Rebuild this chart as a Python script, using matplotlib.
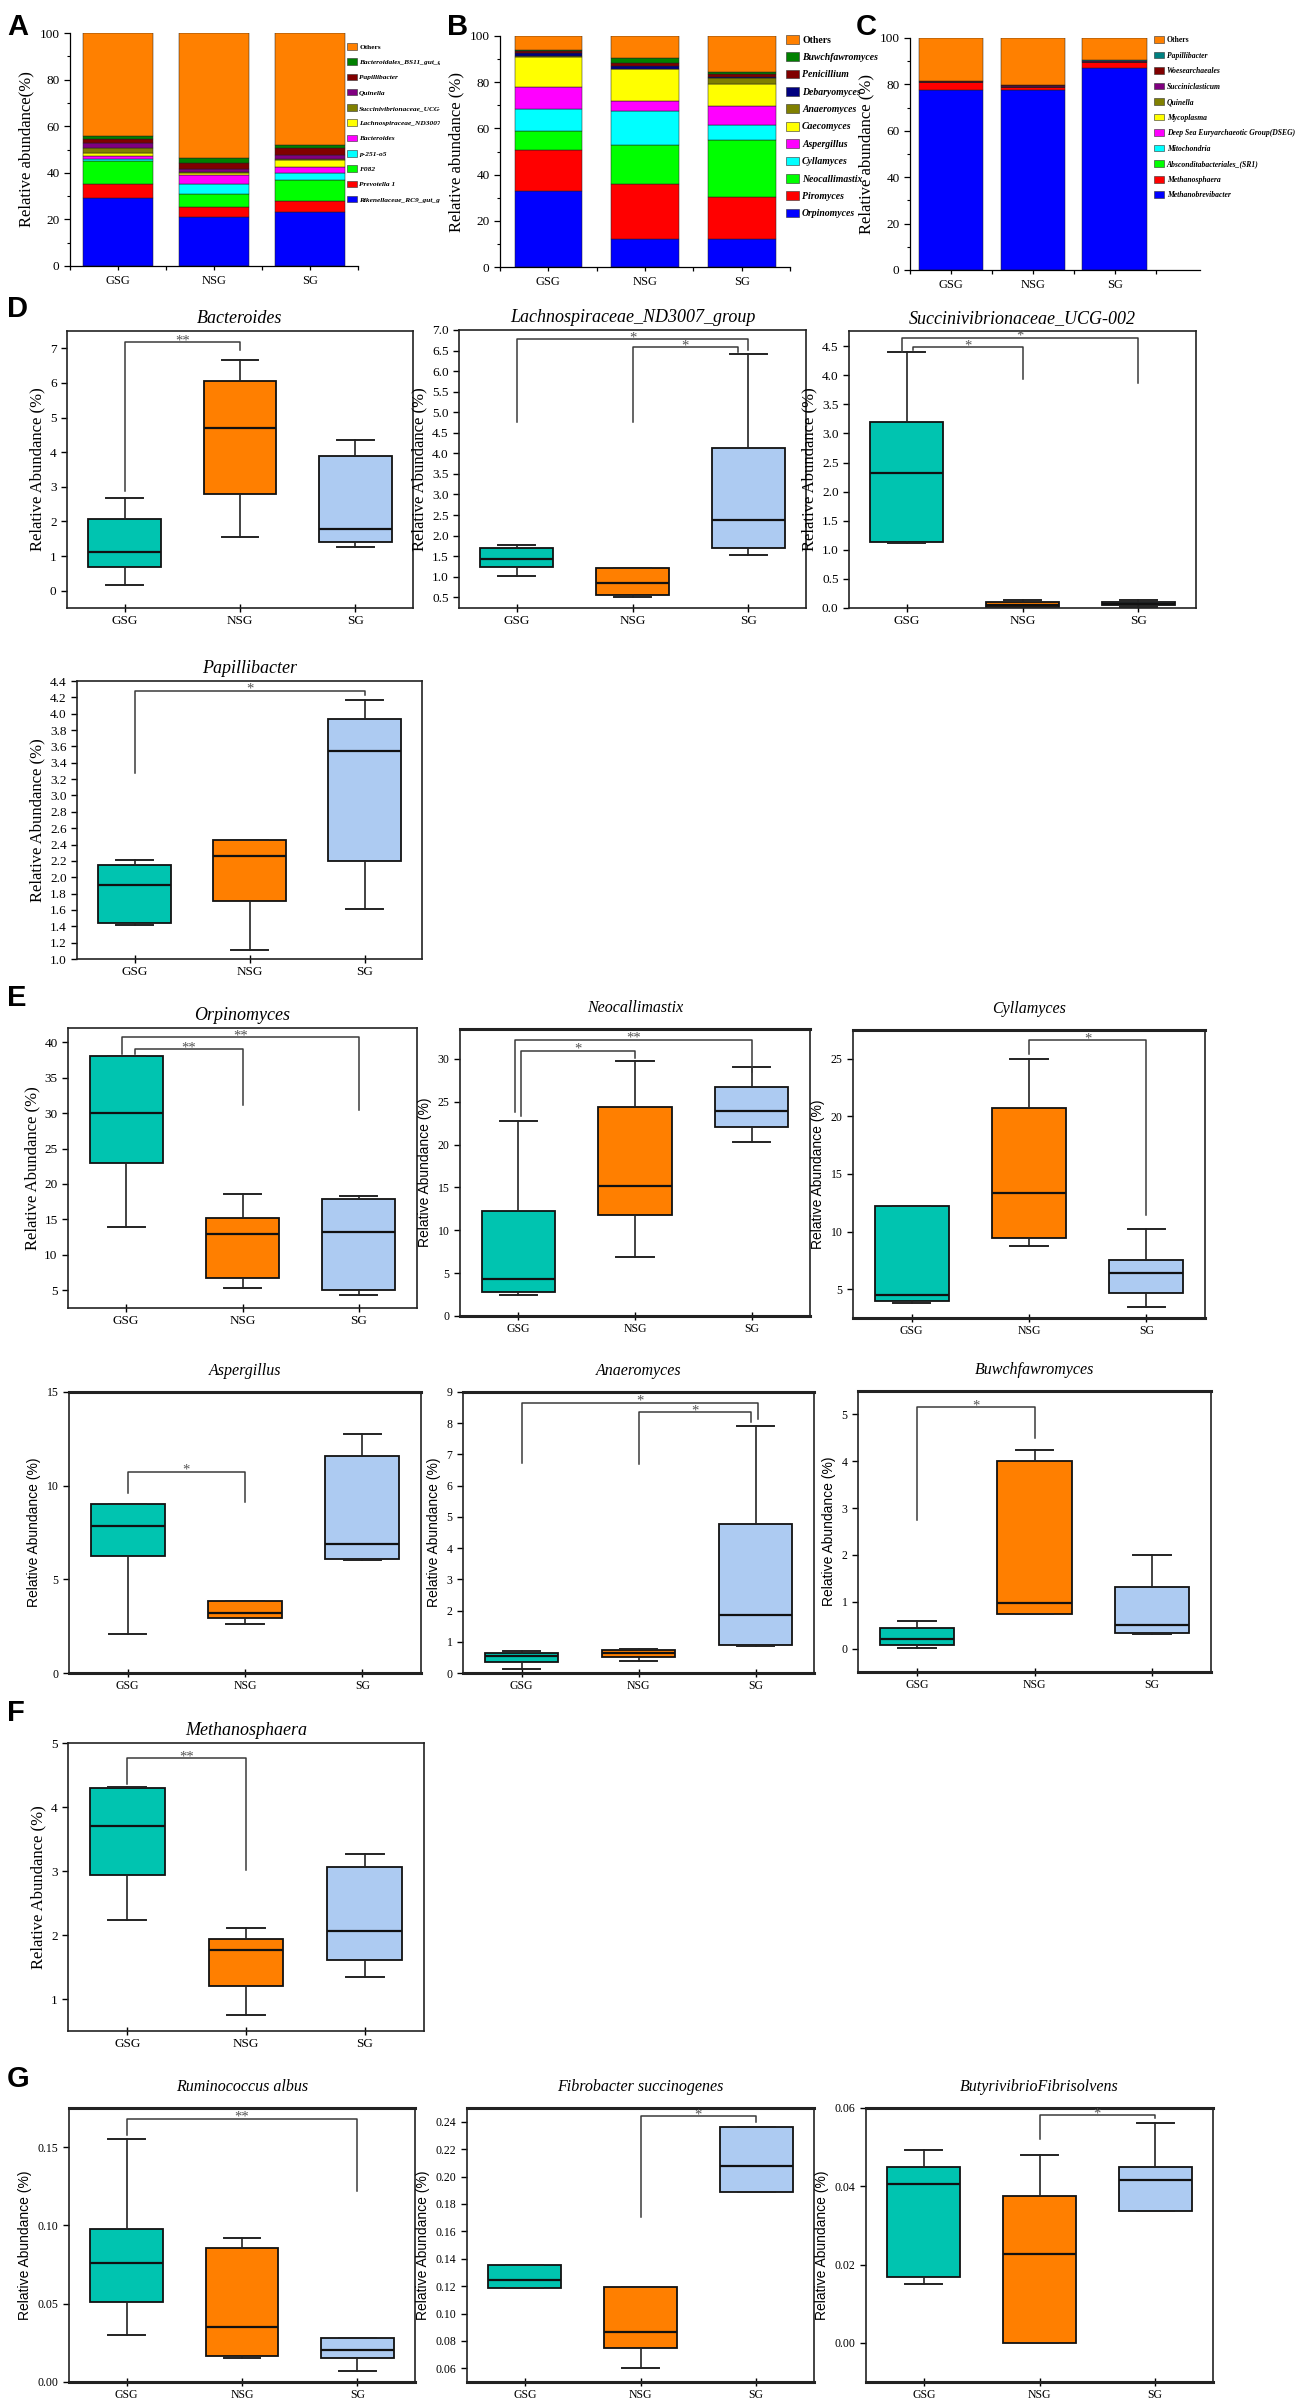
import numpy as np
import matplotlib
matplotlib.use("Agg")
import matplotlib.pyplot as plt
from matplotlib.patches import Patch
from matplotlib.transforms import Bbox
from matplotlib.ticker import MultipleLocator, FormatStrFormatter

W, H = 1300, 2404
groups = ["GSG", "NSG", "SG"]

# ---------------- stacked bars (bottom -> top) ----------------
a_taxa = ["Rikenellaceae_RC9_gut_group", "Prevotella 1", "F082", "p-251-o5", "Bacteroides",
          "Lachnospiraceae_ND3007_group", "Succinivibrionaceae_UCG-002", "Quinella",
          "Papillibacter", "Bacteroidales_BS11_gut_group", "Others"]
a_gsg = [29, 6, 10, 1, 1, 1.5, 2, 2.5, 1.5, 1.5, 44]
a_nsg = [21, 4.5, 5.5, 4, 4, 1, 0.3, 1.5, 2.5, 2, 53.7]
a_sg = [23, 5, 9, 3, 2.5, 3, 0.5, 1.5, 3, 1.5, 48]

b_taxa = ["Orpinomyces", "Piromyces", "Neocallimastix", "Cyllamyces", "Aspergillus",
          "Caecomyces", "Anaeromyces", "Debaryomyces", "Penicillium", "Buwchfawromyces", "Others"]
b_gsg = [33, 17.5, 8.5, 9.5, 9.5, 13, 0.5, 1, 1, 0.3, 6.2]
b_nsg = [12.2, 23.6, 17, 14.8, 4.1, 13.9, 0.2, 1.2, 1.5, 2.1, 9.4]
b_sg = [12.2, 18.3, 24.5, 6.4, 8.4, 9.3, 2.9, 0.3, 1.2, 1.1, 15.4]

c_taxa = ["Methanobrevibacter", "Methanosphaera", "Absconditabacteriales_(SR1)", "Mitochondria",
          "Deep Sea Euryarchaeotic Group(DSEG)", "Mycoplasma", "Quinella", "Succiniclasticum",
          "Woesearchaeales", "Papillibacter", "Others"]
c_gsg = [77.4, 3.5, 0.05, 0.05, 0.05, 0.05, 0.05, 0.05, 0.4, 0.05, 18.25]
c_nsg = [77.4, 1.4, 0.05, 0.05, 0.05, 0.05, 0.05, 0.05, 0.5, 0.05, 20.35]
c_sg = [87.1, 2.5, 0.05, 0.05, 0.05, 0.05, 0.05, 0.05, 0.4, 0.05, 9.65]

# ---------------- box plot stats: [whislo, q1, med, q3, whishi] per group ----------------
bacteroides = [[0.15, 0.68, 1.12, 2.08, 2.68], [1.54, 2.8, 4.69, 6.06, 6.65], [1.27, 1.40, 1.79, 3.88, 4.35]]
lachno = [[1.02, 1.24, 1.44, 1.70, 1.77], [0.50, 0.55, 0.86, 1.21, 1.21], [1.54, 1.69, 2.37, 4.12, 6.42]]
succini = [[1.12, 1.13, 2.32, 3.20, 4.40], [0.0, 0.01, 0.06, 0.11, 0.13], [0.01, 0.05, 0.07, 0.11, 0.13]]
papilli = [[1.41, 1.44, 1.90, 2.15, 2.21], [1.11, 1.71, 2.26, 2.45, 2.45], [1.61, 2.20, 3.54, 3.93, 4.17]]
orpino = [[13.9, 22.9, 30.0, 38.0, 38.0], [5.3, 6.7, 13.0, 15.2, 18.6], [4.35, 5.05, 13.2, 17.9, 18.3]]
neocal = [[2.46, 2.82, 4.33, 12.28, 22.8], [6.83, 11.76, 15.14, 24.35, 29.76], [20.26, 22.09, 23.92, 26.78, 29.04]]
cyllam = [[3.76, 4.0, 4.53, 12.2, 12.2], [8.79, 9.44, 13.39, 20.73, 25.0], [3.49, 4.67, 6.42, 7.52, 10.24]]
asperg = [[2.07, 6.26, 7.83, 9.04, 9.04], [2.62, 2.91, 3.19, 3.82, 3.82], [6.03, 6.08, 6.87, 11.56, 12.74]]
anaero = [[0.13, 0.36, 0.55, 0.64, 0.72], [0.40, 0.50, 0.64, 0.73, 0.77], [0.85, 0.91, 1.85, 4.76, 7.90]]
buwch = [[0.02, 0.08, 0.20, 0.43, 0.59], [0.73, 0.73, 0.98, 4.0, 4.24], [0.31, 0.34, 0.51, 1.32, 2.0]]
methano = [[2.24, 2.94, 3.71, 4.29, 4.31], [0.75, 1.20, 1.76, 1.94, 2.11], [1.35, 1.61, 2.06, 3.07, 3.27]]
rumino = [[0.030, 0.0512, 0.0757, 0.098, 0.155], [0.0152, 0.0169, 0.0349, 0.0855, 0.0922],
          [0.0072, 0.0152, 0.0207, 0.0279, 0.0279]]
fibro = [[0.1183, 0.1183, 0.1245, 0.1352, 0.1352], [0.060, 0.0747, 0.0868, 0.1192, 0.1192],
         [0.1886, 0.1886, 0.208, 0.236, 0.236]]
butyr = [[0.0151, 0.0168, 0.0405, 0.045, 0.0492], [0.0, 0.0, 0.0227, 0.0376, 0.048],
         [0.0336, 0.0338, 0.0415, 0.0449, 0.0562]]

# significance: (group i, group j, bracket height, leg end i, leg end j, label)
bacteroides_sig = [(0, 1, 7.17, 2.88, 6.96, "**")]
lachno_sig = [(0, 2, 6.77, 4.77, 6.51, "*"), (1, 2, 6.58, 4.77, 6.47, "*")]
succini_sig = [(0, 2, 4.64, 4.40, 3.87, "*"), (0, 1, 4.48, 4.44, 3.93, "*")]
papilli_sig = [(0, 2, 4.28, 3.28, 4.23, "*")]
orpino_sig = [(0, 2, 40.66, 38.4, 30.5, "**"), (0, 1, 38.97, 38.4, 31.1, "**")]
neocal_sig = [(0, 2, 32.26, 23.8, 28.5, "**"), (0, 1, 30.95, 23.3, 30.1, "*")]
cyllam_sig = [(1, 2, 26.6, 25.4, 11.46, "*")]
asperg_sig = [(0, 1, 10.72, 9.6, 9.15, "*")]
anaero_sig = [(0, 2, 8.65, 6.74, 8.15, "*"), (1, 2, 8.35, 6.7, 8.04, "*")]
buwch_sig = [(0, 1, 5.15, 2.75, 4.49, "*")]
methano_sig = [(0, 1, 4.76, 4.36, 3.02, "**")]
rumino_sig = [(0, 2, 0.168, 0.158, 0.122, "**")]
fibro_sig = [(1, 2, 0.2439, 0.1707, 0.2395, "*")]
butyr_sig = [(1, 2, 0.0581, 0.052, 0.0575, "*")]

# ---------------- styling ----------------
SERIF = ["Liberation Serif", "DejaVu Serif"]
SANS = ["Liberation Sans", "DejaVu Sans"]
plt.rcParams["font.family"] = SERIF

box_colors = ["#00C4B0", "#FF7F00", "#ADCBF2"]
a_colors = ["#0000FF", "#FF0000", "#00FF00", "#00FFFF", "#FF00FF", "#FFFF00", "#808000",
            "#800080", "#800000", "#008000", "#FF8000"]
b_colors = ["#0000FF", "#FF0000", "#00FF00", "#00FFFF", "#FF00FF", "#FFFF00", "#808000",
            "#000080", "#800000", "#008000", "#FF8000"]
c_colors = ["#0000FF", "#FF0000", "#00FF00", "#00FFFF", "#FF00FF", "#FFFF00", "#808000",
            "#800080", "#800000", "#008080", "#FF8000"]

fig = plt.figure(figsize=(W / 100, H / 100), dpi=100)
fig.patch.set_facecolor("white")


def px_axes(l, t, r, b):
    return fig.add_axes([l / W, 1 - b / H, (r - l) / W, (b - t) / H])


def letter(x, y, s, size=21):
    fig.text(x / W, 1 - y / H, s, fontsize=size, fontweight="bold", family=SANS,
             ha="left", va="center")


def stacked(ax, taxa, cols, data, ylabel, xmax, bw, leg_xy, leg_fs, leg_ls, clip_x=None):
    x = np.arange(1, 4)
    bottoms = np.zeros(3)
    vals = np.array(data)  # 3 x ntaxa
    for k in range(len(taxa)):
        ax.bar(x, vals[:, k], bottom=bottoms, width=bw, color=cols[k],
               edgecolor="#202020", linewidth=0.35)
        bottoms += vals[:, k]
    ax.set_xlim(0.5, xmax)
    ax.set_ylim(0, 100)
    ax.set_xticks(x)
    ax.set_xticklabels(groups, fontsize=9)
    ax.set_xticks(np.arange(0.5, xmax + 0.01, 1.0), minor=True)
    ax.yaxis.set_major_locator(MultipleLocator(20))
    ax.yaxis.set_minor_locator(MultipleLocator(10))
    ax.tick_params(axis="y", labelsize=9.5, direction="out", length=4, width=0.9)
    ax.tick_params(axis="y", which="minor", length=2.5, width=0.8)
    ax.tick_params(axis="x", which="both", direction="out", length=3, width=0.9)
    for s in ["top", "right"]:
        ax.spines[s].set_visible(False)
    for s in ["left", "bottom"]:
        ax.spines[s].set_linewidth(0.9)
    ax.set_ylabel(ylabel, fontsize=12, labelpad=4)
    handles = [Patch(facecolor=cols[k], edgecolor="#303030", linewidth=0.4) for k in range(len(taxa))][::-1]
    leg = ax.legend(handles, taxa[::-1], loc="upper left",
                    bbox_to_anchor=(leg_xy[0] / W, 1 - leg_xy[1] / H),
                    bbox_transform=fig.transFigure, frameon=False,
                    prop=dict(family=SERIF, weight="bold", style="italic", size=leg_fs),
                    handlelength=1.3, handleheight=1.0, handletextpad=0.35,
                    labelspacing=leg_ls, borderpad=0, borderaxespad=0)
    for t in leg.get_texts():
        if t.get_text() == "Others":
            t.set_fontstyle("normal")
        if clip_x is not None:
            t.set_clip_box(Bbox([[0, 0], [clip_x, H]]))
            t.set_clip_on(True)


def boxpanel(ax, title, data, sig, ylim, step, fmt, alt=False, offs=None):
    stats = [dict(whislo=d[0], q1=d[1], med=d[2], q3=d[3], whishi=d[4], fliers=[]) for d in data]
    bp = ax.bxp(stats, positions=[1, 2, 3], widths=0.63, patch_artist=True, showfliers=False,
                capwidths=0.32,
                boxprops=dict(edgecolor="#111111", linewidth=1.3),
                medianprops=dict(color="#111111", linewidth=1.6),
                whiskerprops=dict(color="#222222", linewidth=1.2),
                capprops=dict(color="#222222", linewidth=1.4))
    for patch, c in zip(bp["boxes"], box_colors):
        patch.set_facecolor(c)
    ax.set_xlim(0.5, 3.5)
    ax.set_ylim(*ylim)
    ax.yaxis.set_major_locator(MultipleLocator(step))
    ax.yaxis.set_major_formatter(FormatStrFormatter(fmt))
    ax.set_xticks([1, 2, 3])
    tfs = 9.5 if not alt else 8.5
    ax.set_xticklabels(groups, fontsize=tfs)
    ax.tick_params(axis="y", labelsize=tfs, direction="out", length=4, width=1)
    ax.tick_params(axis="x", direction="inout", length=6, width=1, pad=2)
    for s in ax.spines.values():
        s.set_linewidth(1.2)
        s.set_color("#222222")
    if alt:
        ax.spines["top"].set_linewidth(2.2)
        ax.spines["bottom"].set_linewidth(2.2)
        ax.set_ylabel("Relative Abundance (%)", fontsize=10, family=SANS, labelpad=4)
        ax.set_title(title, fontsize=11.5, style="italic", pad=12)
    else:
        ax.set_ylabel("Relative Abundance (%)", fontsize=12, labelpad=3)
        ax.set_title(title, fontsize=13, style="italic", pad=6)
    for n, (i, j, y, li, lj, lab) in enumerate(sig):
        dxi, dxj = (0, 0) if offs is None else offs[n]
        xi, xj = i + 1 + dxi, j + 1 + dxj
        ax.plot([xi, xi, xj, xj], [li, y, y, lj], color="#3a3a3a", lw=1.1, clip_on=False)
        ax.annotate(lab, xy=((xi + xj) / 2, y), xytext=(0, -3.5), textcoords="offset points",
                    ha="center", va="bottom", fontsize=10.5, color="#555555")


# ---------------- top row: stacked bars ----------------
axA = px_axes(70, 33, 358, 266)
stacked(axA, a_taxa, a_colors, [a_gsg, a_nsg, a_sg], "Relative abundance(%)", 3.5, 0.72,
        (347, 43), 5.3, 1.15, clip_x=440)
axB = px_axes(500, 36, 790, 267)
stacked(axB, b_taxa, b_colors, [b_gsg, b_nsg, b_sg], "Relative abundance (%)", 3.5, 0.70,
        (786, 35), 7.0, 0.79)
axC = px_axes(910, 38, 1200, 270)
stacked(axC, c_taxa, c_colors, [c_gsg, c_nsg, c_sg], "Relative abundance (%)", 4.04, 0.79,
        (1154, 36), 5.5, 0.98)

letter(7, 27, "A")
letter(447, 27, "B")
letter(856, 27, "C")

# ---------------- D ----------------
ax = px_axes(67, 331, 413, 608)
boxpanel(ax, "Bacteroides", bacteroides, bacteroides_sig, (-0.5, 7.5), 1, "%d")
ax = px_axes(459, 330, 806, 608)
boxpanel(ax, "Lachnospiraceae_ND3007_group", lachno, lachno_sig, (0.24, 7.0), 0.5, "%.1f",
         offs=[(0, 0), (0, -0.09)])
ax = px_axes(849, 331, 1196, 608)
boxpanel(ax, "Succinivibrionaceae_UCG-002", succini, succini_sig, (0, 4.76), 0.5, "%.1f",
         offs=[(-0.04, 0), (0.05, 0)])
ax = px_axes(77, 681, 422, 959)
boxpanel(ax, "Papillibacter", papilli, papilli_sig, (1.0, 4.4), 0.2, "%.1f")
letter(7, 309, "D")

# ---------------- E ----------------
ax = px_axes(68, 1028, 417, 1308)
boxpanel(ax, "Orpinomyces", orpino, orpino_sig, (2.5, 42), 5, "%d", offs=[(-0.035, 0), (0.08, 0)])
ax = px_axes(460, 1029, 810, 1316)
boxpanel(ax, "Neocallimastix", neocal, neocal_sig, (0, 33.5), 5, "%d", alt=True,
         offs=[(-0.03, 0), (0.02, 0)])
ax = px_axes(853, 1030, 1205, 1318)
boxpanel(ax, "Cyllamyces", cyllam, cyllam_sig, (2.5, 27.5), 5, "%d", alt=True)
ax = px_axes(69, 1392, 421, 1673)
boxpanel(ax, "Aspergillus", asperg, asperg_sig, (0, 15), 5, "%d", alt=True)
ax = px_axes(463, 1392, 814, 1673)
boxpanel(ax, "Anaeromyces", anaero, anaero_sig, (0, 9), 1, "%d", alt=True,
         offs=[(0, 0.02), (0, -0.04)])
ax = px_axes(858, 1391, 1211, 1672)
boxpanel(ax, "Buwchfawromyces", buwch, buwch_sig, (-0.5, 5.5), 1, "%d", alt=True)
letter(7, 998, "E")

# ---------------- F ----------------
ax = px_axes(68, 1743, 424, 2031)
boxpanel(ax, "Methanosphaera", methano, methano_sig, (0.5, 5.0), 1, "%d")
letter(7, 1713, "F")

# ---------------- G ----------------
ax = px_axes(69, 2108, 415, 2382)
boxpanel(ax, "Ruminococcus albus", rumino, rumino_sig, (0, 0.175), 0.05, "%.2f", alt=True)
ax = px_axes(467, 2108, 814, 2382)
boxpanel(ax, "Fibrobacter succinogenes", fibro, fibro_sig, (0.05, 0.25), 0.02, "%.2f", alt=True)
ax = px_axes(866, 2108, 1213, 2382)
boxpanel(ax, "ButyrivibrioFibrisolvens", butyr, butyr_sig, (-0.01, 0.06), 0.02, "%.2f", alt=True)
letter(7, 2079, "G")

fig.savefig("out.png", dpi=100, facecolor="white")
